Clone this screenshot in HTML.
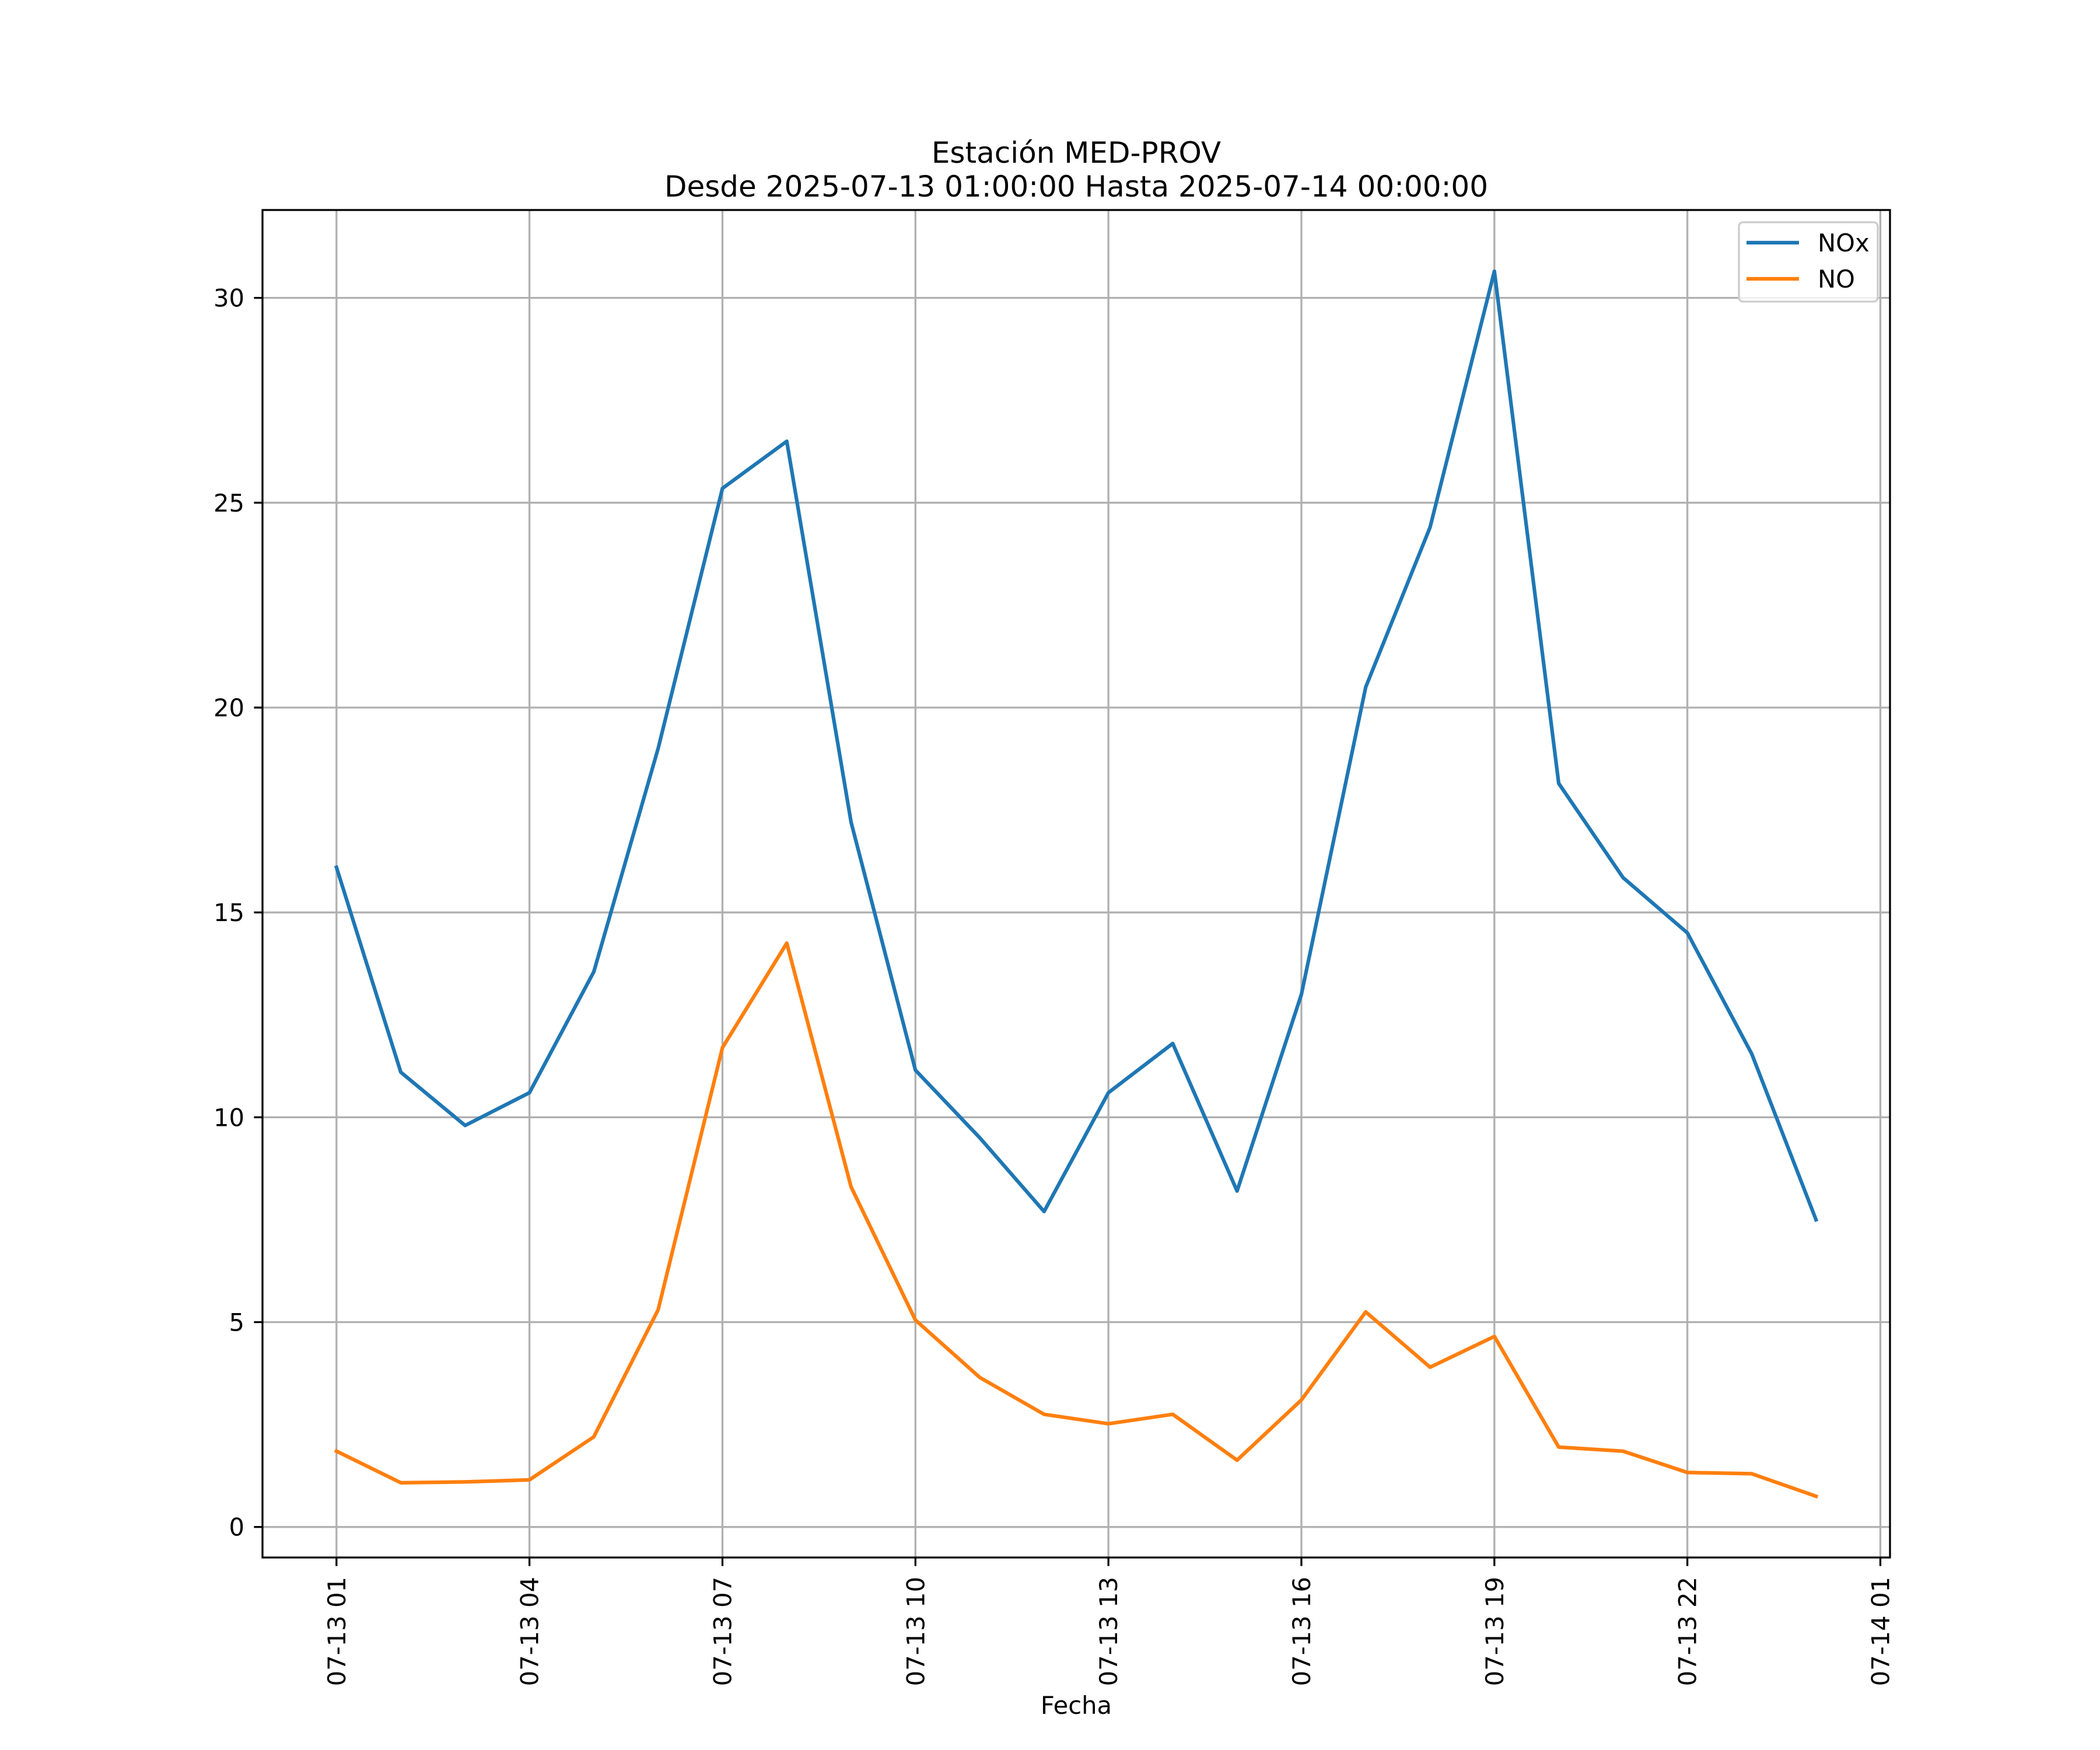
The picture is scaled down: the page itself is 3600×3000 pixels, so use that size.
<!DOCTYPE html>
<html><head><meta charset="utf-8"><style>html,body{margin:0;padding:0;background:#fff}svg{display:block}text{font-family:"DejaVu Sans","Liberation Sans",sans-serif;fill:#000}</style></head>
<body>
<svg id="chart" width="3600" height="3000" viewBox="0 0 3600 3000" xmlns="http://www.w3.org/2000/svg">
<rect width="3600" height="3000" fill="#fff"/>
<text x="1845" y="279" font-size="50" text-anchor="middle">Estación MED-PROV</text>
<text x="1845" y="337" font-size="50" text-anchor="middle">Desde 2025-07-13 01:00:00 Hasta 2025-07-14 00:00:00</text>
<g id="grid"></g>
<g id="series"></g>
<rect x="450" y="360" width="2790" height="2310" fill="none" stroke="#000" stroke-width="3.3"/>
<g id="ticks"></g>
<text x="1845" y="2938" font-size="41.7" text-anchor="middle">Fecha</text>
<g>
<rect x="2981" y="381" width="238" height="136" rx="7" fill="#fff" fill-opacity="0.8" stroke="#ccc" stroke-width="3.3"/>
<line x1="2994" y1="416" x2="3084" y2="416" stroke="#1f77b4" stroke-width="6.25"/>
<text x="3116" y="431" font-size="41.7">NOx</text>
<line x1="2994" y1="478" x2="3084" y2="478" stroke="#ff7f0e" stroke-width="6.25"/>
<text x="3116" y="493" font-size="41.7">NO</text>
</g>
</svg>
<script>
const hours = [0,1,2,3,4,5,6,7,8,9,10,11,12,13,14,15,16,17,18,19,20,21,22,23];
const noxValues = [16.1,11.1,9.8,10.6,13.55,19.0,25.35,26.5,17.2,11.15,9.5,7.7,10.6,11.8,8.2,13.0,20.5,24.4,30.65,18.15,15.85,14.5,11.55,7.5];
const noValues = [1.85,1.08,1.1,1.15,2.2,5.3,11.7,14.25,8.3,5.05,3.65,2.75,2.52,2.75,1.63,3.1,5.25,3.9,4.65,1.95,1.85,1.33,1.3,0.75];
const yTicks = [0,5,10,15,20,25,30];
const xTickHours = [0,3,6,9,12,15,18,21,24];
const xTickLabels = ["07-13 01","07-13 04","07-13 07","07-13 10","07-13 13","07-13 16","07-13 19","07-13 22","07-14 01"];

const NS = "http://www.w3.org/2000/svg";
const L=450,R=3240,T=360,B=2670;
const allV = noxValues.concat(noValues);
const vmin=Math.min(...allV), vmax=Math.max(...allV), vm=(vmax-vmin)*0.05;
const y0=vmin-vm, y1=vmax+vm;
const hmin=Math.min(...hours), hmax=Math.max(...hours), hm=(hmax-hmin)*0.05;
const x0=hmin-hm, x1=hmax+hm;
const sx=h=>L+(h-x0)/(x1-x0)*(R-L);
const sy=v=>B-(v-y0)/(y1-y0)*(B-T);
function mk(tag,attrs,parent){const e=document.createElementNS(NS,tag);for(const k in attrs)e.setAttribute(k,attrs[k]);parent.appendChild(e);return e;}
const grid=document.getElementById('grid'), ticks=document.getElementById('ticks'), series=document.getElementById('series');
yTicks.forEach(v=>{
  const y=sy(v);
  const g=mk('line',{x1:L,x2:R,y1:y,y2:y,stroke:'#b0b0b0','stroke-width':3.3},grid);
  
  
  const t=mk('line',{x1:L-14.6,x2:L,y1:y,y2:y,stroke:'#000','stroke-width':3.3},ticks);
  
  
  const lb=mk('text',{x:419,y:y+15,'font-size':41.7,'text-anchor':'end'},ticks);
  lb.textContent=String(v);
  
  
});
xTickHours.forEach((h,i)=>{
  const x=sx(h);
  const g=mk('line',{x1:x,x2:x,y1:T,y2:B,stroke:'#b0b0b0','stroke-width':3.3},grid);
  
  
  const t=mk('line',{x1:x,x2:x,y1:B,y2:B+14.6,stroke:'#000','stroke-width':3.3},ticks);
  
  
  const lb=mk('text',{x:0,y:0,'font-size':41.7,'text-anchor':'end',transform:`translate(${x+15},2703) rotate(-90)`},ticks);
  lb.textContent=xTickLabels[i];
  
  
});
function line(vals,color,name){
  const p=mk('polyline',{points:hours.map((h,i)=>sx(h)+','+sy(vals[i])).join(' '),fill:'none',stroke:color,'stroke-width':6.25,'stroke-linejoin':'round','stroke-linecap':'square'},series);
  
  
}
line(noxValues,'#1f77b4','nox-line');
line(noValues,'#ff7f0e','no-line');
</script>
</body></html>
